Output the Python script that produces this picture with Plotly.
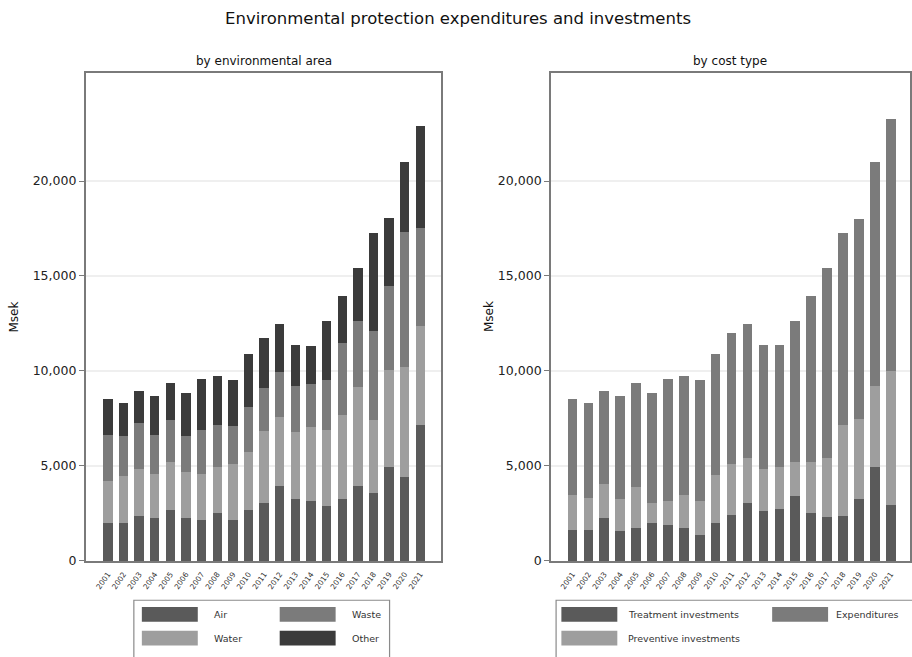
import plotly.graph_objects as go

# Years shown on both panels
years = list(range(2001, 2022))
year_labels = [str(y) for y in years]

# Expenditures and investments by environmental area (Msek)
air = [2020, 2000, 2380, 2270, 2660, 2260, 2150, 2540, 2150, 2660, 3040,
       3920, 3280, 3180, 2880, 3280, 3920, 3560, 4970, 4440, 7140]
water = [2200, 2480, 2450, 2330, 2550, 2430, 2430, 2400, 2950, 3060, 3790,
         3680, 3510, 3870, 4030, 4410, 5260, 3870, 5090, 5780, 5240]
waste = [2400, 2080, 2430, 2030, 2220, 1880, 2330, 2220, 2030, 2400, 2290,
         2340, 2430, 2270, 2620, 3790, 3470, 4650, 4430, 7070, 5120]
other = [1910, 1740, 1680, 2030, 1960, 2290, 2660, 2550, 2400, 2760, 2620,
         2540, 2150, 2010, 3110, 2470, 2780, 5170, 3540, 3700, 5400]

# Expenditures and investments by cost type (Msek)
treatment = [1630, 1630, 2270, 1580, 1750, 2000, 1880, 1750, 1390, 2000, 2430,
             3040, 2640, 2730, 3400, 2520, 2340, 2380, 3280, 4970, 2920]
preventive = [1860, 1670, 1770, 1680, 2140, 1040, 1250, 1740, 1740, 2550, 2660,
              2400, 2190, 2220, 1810, 2690, 3090, 4780, 4200, 4250, 7080]
expenditures = [5040, 5020, 4900, 5400, 5500, 5820, 6440, 6220, 6410, 6320, 6910,
                7050, 6550, 6420, 7430, 8730, 10000, 10100, 10540, 11770, 13280]

y_ticks = [0, 5000, 10000, 15000, 20000]

area_series = [("Air", air, "#5a5a5a"), ("Water", water, "#9e9e9e"),
               ("Waste", waste, "#7b7b7b"), ("Other", other, "#3b3b3b")]
cost_series = [("Treatment investments", treatment, "#5a5a5a"),
               ("Preventive investments", preventive, "#9e9e9e"),
               ("Expenditures", expenditures, "#7b7b7b")]

W, H = 912, 657
FONT = "DejaVu Sans"


def px(x):
    return x / W


def py(y):
    return (H - y) / H


fig = go.Figure()
for name, vals, col in area_series:
    fig.add_trace(go.Bar(x=years, y=vals, name=name, marker_color=col,
                         marker_line_width=0, showlegend=False,
                         xaxis="x", yaxis="y"))
for name, vals, col in cost_series:
    fig.add_trace(go.Bar(x=years, y=vals, name=name, marker_color=col,
                         marker_line_width=0, showlegend=False,
                         xaxis="x2", yaxis="y2"))

frame = dict(showline=True, linecolor="#7a7a7a", linewidth=2, mirror=True,
             zeroline=False)
xcommon = dict(tickmode="array", tickvals=years, ticktext=year_labels,
               tickangle=-55, tickfont=dict(size=7.5, color="#333"),
               ticklabelstandoff=4,
               showgrid=False, ticks="", **frame)
ycommon = dict(range=[0, 25700], tickmode="array", tickvals=y_ticks,
               tickformat=",d", tickfont=dict(size=12.5, color="#222"),
               showgrid=True, gridcolor="#efefef", gridwidth=1.5,
               ticks="outside", ticklen=5, tickcolor="#7a7a7a", **frame)

y_dom = [py(567), py(73.5)]
fig.update_layout(
    width=W, height=H, margin=dict(l=0, r=0, t=0, b=0),
    paper_bgcolor="white", plot_bgcolor="white",
    font=dict(family=FONT, color="#222"),
    barmode="stack", bargap=0.4,
    xaxis=dict(domain=[px(86), px(441.7)], range=[1999.59, 2022.34],
               anchor="y", **xcommon),
    yaxis=dict(domain=y_dom, anchor="x", **ycommon),
    xaxis2=dict(domain=[px(551.7), px(910.7)], range=[1999.66, 2022.19],
                anchor="y2", **xcommon),
    yaxis2=dict(domain=y_dom, anchor="x2", **ycommon),
)

annotations = [
    dict(text="Environmental protection expenditures and investments",
         x=px(459), y=py(19), font=dict(size=16.5, color="#111")),
    dict(text="by environmental area", x=px(263.8), y=py(62),
         font=dict(size=12, color="#111")),
    dict(text="by cost type", x=px(731.2), y=py(62),
         font=dict(size=12, color="#111")),
    dict(text="Msek", x=px(14), y=py(320), textangle=-90,
         font=dict(size=12, color="#111")),
    dict(text="Msek", x=px(489), y=py(320), textangle=-90,
         font=dict(size=12, color="#111")),
]
for a in annotations:
    a.update(xref="paper", yref="paper", showarrow=False,
             xanchor="center", yanchor="middle")

shapes = []


def legend_box(x0, x1, items):
    shapes.append(dict(type="rect", xref="paper", yref="paper",
                       x0=px(x0), x1=px(x1), y0=py(606.7), y1=py(690),
                       line=dict(color="#8a8a8a", width=1.2),
                       fillcolor="rgba(0,0,0,0)"))
    for label, col, sx, sy, tx in items:
        shapes.append(dict(type="rect", xref="paper", yref="paper",
                           x0=px(sx), x1=px(sx + 56), y0=py(sy + 7.5),
                           y1=py(sy - 7.5), line=dict(width=0),
                           fillcolor=col))
        annotations.append(dict(text=label, xref="paper", yref="paper",
                                x=px(tx), y=py(sy), xanchor="left",
                                yanchor="middle", showarrow=False,
                                font=dict(size=9.5, color="#333")))


legend_box(134, 390, [
    ("Air", area_series[0][2], 142, 621, 212),
    ("Waste", area_series[2][2], 280, 621, 350),
    ("Water", area_series[1][2], 142, 645, 212),
    ("Other", area_series[3][2], 280, 645, 350),
])
legend_box(556.7, 930, [
    ("Treatment investments", cost_series[0][2], 562, 621, 627),
    ("Expenditures", cost_series[2][2], 773, 621, 835),
    ("Preventive investments", cost_series[1][2], 562, 645, 627),
])

fig.update_layout(annotations=annotations, shapes=shapes)
fig.write_html("out.html")
